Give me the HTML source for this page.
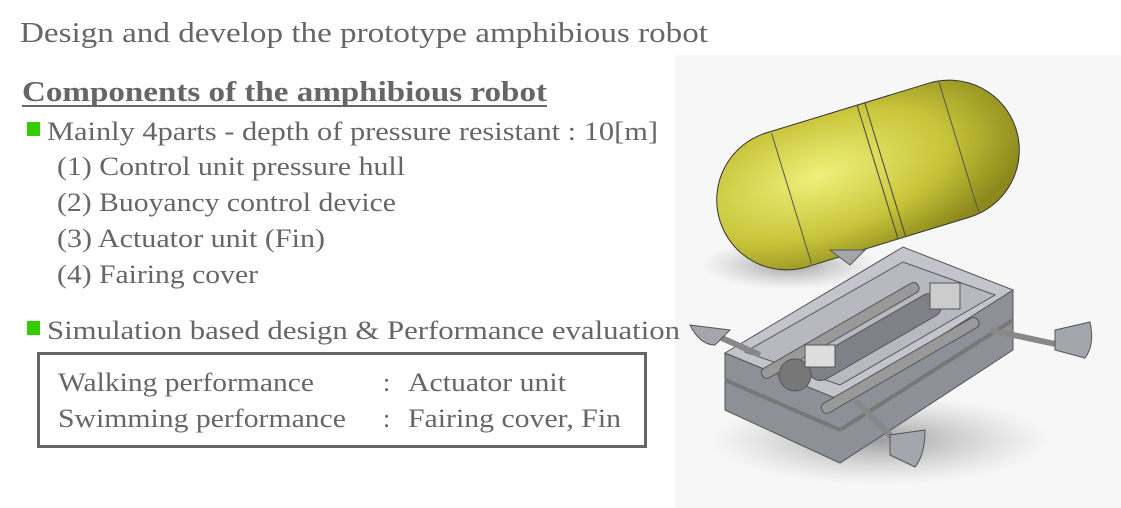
<!DOCTYPE html>
<html><head><meta charset="utf-8"><style>
html,body{margin:0;padding:0;background:#fff;}
svg{display:block;}
text{font-family:"Liberation Serif",serif;fill:#666;}
</style></head><body>
<svg width="1121" height="508" viewBox="0 0 1121 508" xmlns="http://www.w3.org/2000/svg">
<defs>
<radialGradient id="yl" cx="0.35" cy="0.4" r="0.7">
<stop offset="0" stop-color="#eef07a"/><stop offset="0.6" stop-color="#c8c43a"/><stop offset="1" stop-color="#8c8a1c"/>
</radialGradient>
<radialGradient id="sh" cx="0.5" cy="0.5" r="0.5">
<stop offset="0" stop-color="#777" stop-opacity="0.7"/><stop offset="1" stop-color="#aaa" stop-opacity="0"/>
</radialGradient>
</defs>
<rect x="675" y="55" width="446" height="453" fill="#f7f7f7"/>
<!-- shadows -->
<ellipse cx="790" cy="265" rx="90" ry="25" fill="url(#sh)"/>
<ellipse cx="880" cy="440" rx="170" ry="45" fill="url(#sh)"/>
<!-- capsule -->
<g transform="translate(868,175) rotate(-17)">
<rect x="-155" y="-70" width="310" height="140" rx="70" fill="url(#yl)" stroke="#333" stroke-width="1"/>
<line x1="10" y1="-70" x2="10" y2="70" stroke="#444"/>
<line x1="18" y1="-70" x2="18" y2="70" stroke="#444"/>
<line x1="-80" y1="-68" x2="-80" y2="68" stroke="#555"/>
<line x1="95" y1="-68" x2="95" y2="68" stroke="#555"/>
</g>
<!-- frame -->
<g fill="#a4a6ae" stroke="#555" stroke-width="1">
<polygon points="725,353 725,410 840,463 1013,350 1013,290 840,400" fill="#8e9098"/>
<polygon points="725,353 903,247 1013,290 840,400" fill="#c4c5cc"/>
<polygon points="745,352 903,262 995,295 840,385" fill="#b8b9c0"/>
<line x1="725" y1="380" x2="840" y2="430" stroke-width="4" stroke="#777"/>
<line x1="840" y1="430" x2="1013" y2="320" stroke-width="4" stroke="#777"/>
<rect x="800" y="325" width="150" height="24" rx="12" transform="rotate(-30 875 337)" fill="#7f8088"/>
<rect x="750" y="325" width="180" height="11" rx="5" transform="rotate(-30 840 330)" fill="#999"/>
<rect x="810" y="360" width="180" height="11" rx="5" transform="rotate(-30 900 365)" fill="#999"/>
<line x1="990" y1="330" x2="1060" y2="345" stroke-width="6" stroke="#888"/>
<line x1="855" y1="400" x2="895" y2="440" stroke-width="6" stroke="#888"/>
<line x1="715" y1="335" x2="760" y2="355" stroke-width="6" stroke="#888"/>
<path d="M1055,330 L1090,322 Q1095,345 1085,358 L1055,350 Z"/>
<path d="M890,435 L925,430 Q925,455 915,467 L890,455 Z"/>
<path d="M690,325 L730,330 L715,345 Q700,345 690,325 Z"/>
<path d="M830,250 L865,250 L850,265 Z"/>
<circle cx="795" cy="375" r="16" fill="#777"/>
<rect x="805" y="345" width="30" height="22" fill="#ddd"/>
<rect x="930" y="283" width="30" height="26" fill="#ccc"/>
</g>
<!-- text -->
<text x="20" y="42" font-size="28" textLength="688" lengthAdjust="spacingAndGlyphs">Design and develop the prototype amphibious robot</text>
<text x="22" y="101" font-size="28" font-weight="bold" textLength="525" lengthAdjust="spacingAndGlyphs">Components of the amphibious robot</text>
<rect x="22" y="105" width="525" height="2" fill="#666"/>
<rect x="27" y="122" width="13" height="14" fill="#33cc00"/>
<text x="47" y="140" font-size="26" textLength="611" lengthAdjust="spacingAndGlyphs">Mainly  4parts  - depth of pressure resistant : 10[m]</text>
<text x="57" y="175" font-size="26" textLength="348" lengthAdjust="spacingAndGlyphs">(1) Control unit pressure hull</text>
<text x="57" y="211" font-size="26" textLength="339" lengthAdjust="spacingAndGlyphs">(2) Buoyancy control device</text>
<text x="57" y="247" font-size="26" textLength="268" lengthAdjust="spacingAndGlyphs">(3) Actuator unit (Fin)</text>
<text x="57" y="283" font-size="26" textLength="201" lengthAdjust="spacingAndGlyphs">(4) Fairing cover</text>
<rect x="27" y="321" width="13" height="14" fill="#33cc00"/>
<text x="47" y="339" font-size="26" textLength="633" lengthAdjust="spacingAndGlyphs">Simulation based design   &amp;  Performance evaluation</text>
<rect x="38.5" y="353.5" width="607" height="93" fill="none" stroke="#666" stroke-width="3"/>
<text x="58" y="391" font-size="26" textLength="256" lengthAdjust="spacingAndGlyphs">Walking performance</text>
<text x="383" y="391" font-size="26">:</text>
<text x="408" y="391" font-size="26" textLength="158" lengthAdjust="spacingAndGlyphs">Actuator unit</text>
<text x="58" y="427" font-size="26" textLength="288" lengthAdjust="spacingAndGlyphs">Swimming performance</text>
<text x="383" y="427" font-size="26">:</text>
<text x="408" y="427" font-size="26" textLength="213" lengthAdjust="spacingAndGlyphs">Fairing cover, Fin</text>
</svg>
</body></html>
